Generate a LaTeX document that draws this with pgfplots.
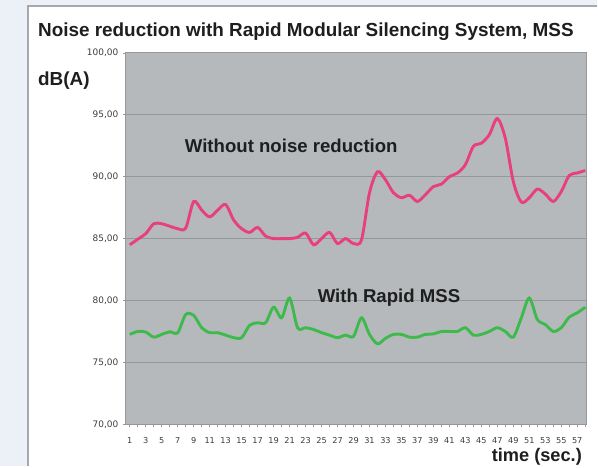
\documentclass[border=0pt]{standalone}
\usepackage{pgfplots}
\pgfplotsset{compat=1.18}
\usepackage{fontspec}
\setmainfont{Liberation Sans}
\newfontfamily\tickfont{DejaVu Sans}
\definecolor{pinkline}{RGB}{232,64,122}
\definecolor{greenline}{RGB}{62,186,76}
\definecolor{plotbg}{RGB}{181,185,188}
\definecolor{gridc}{RGB}{148,151,155}
\definecolor{panelbd}{RGB}{165,168,172}
\definecolor{outerbg}{RGB}{236,241,247}
\definecolor{ticktext}{RGB}{60,60,60}
\definecolor{labeltext}{RGB}{30,30,30}

\pgfplotstableread{
x y
1 84.5
2 84.95
3 85.4
4 86.2
5 86.2
6 86.0
7 85.8
8 85.85
9 88.0
10 87.3
11 86.75
12 87.3
13 87.75
14 86.5
15 85.8
16 85.5
17 85.9
18 85.2
19 85.0
20 85.0
21 85.0
22 85.1
23 85.45
24 84.5
25 85.0
26 85.5
27 84.6
28 85.0
29 84.6
30 84.9
31 88.7
32 90.4
33 89.75
34 88.7
35 88.3
36 88.5
37 88.0
38 88.55
39 89.2
40 89.4
41 90.0
42 90.3
43 90.97
44 92.45
45 92.7
46 93.4
47 94.7
48 93.1
49 89.6
50 87.95
51 88.3
52 89.0
53 88.6
54 88.0
55 88.8
56 90.1
57 90.3
58 90.5
}\without

\pgfplotstableread{
x y
1 77.26
2 77.5
3 77.45
4 77.04
5 77.26
6 77.47
7 77.4
8 78.87
9 78.8
10 77.8
11 77.4
12 77.4
13 77.2
14 77.0
15 77.0
16 78.0
17 78.2
18 78.2
19 79.46
20 78.6
21 80.2
22 77.8
23 77.8
24 77.66
25 77.4
26 77.2
27 77.0
28 77.2
29 77.1
30 78.6
31 77.26
32 76.5
33 76.94
34 77.26
35 77.26
36 77.04
37 77.04
38 77.26
39 77.3
40 77.5
41 77.5
42 77.5
43 77.8
44 77.2
45 77.26
46 77.5
47 77.8
48 77.5
49 77.04
50 78.6
51 80.2
52 78.47
53 78.06
54 77.5
55 77.8
56 78.66
57 79.0
58 79.46
}\withmss

\begin{document}
\begin{tikzpicture}[x=1bp,y=1bp]
\fill[outerbg] (0,0) rectangle (598,467);
\fill[white] (28,0) rectangle (598,461);
\draw[panelbd, line width=2bp] (28,0) -- (28,461) -- (598,461);
\node[anchor=base west, inner sep=0pt, font=\bfseries\fontsize{19}{21}\selectfont, text=labeltext] at (38,430) {Noise reduction with Rapid Modular Silencing System, MSS};
\node[anchor=base west, inner sep=0pt, font=\bfseries\fontsize{19}{21}\selectfont, text=labeltext] at (38,381) {dB(A)};
\node[anchor=base east, inner sep=0pt, font=\bfseries\fontsize{18.3}{20}\selectfont, text=labeltext] at (583,5) {time (sec.)};
\begin{axis}[
  at={(126bp,42bp)}, anchor=south west,
  scale only axis, width=461bp, height=372bp,
  xmin=0.5, xmax=58.1, ymin=70, ymax=100,
  ytick={70,75,...,100},
  xtick={1,3,...,57},
  minor xtick={1,...,58},
  axis background/.style={fill=plotbg},
  ymajorgrids, grid style={gridc, line width=0.8bp},
  axis line style={gridc, line width=0.8bp},
  tick style={gridc, line width=0.6bp},
  major tick length=3bp, minor tick length=3bp,
  tick align=outside,
  xtick pos=bottom, ytick pos=left,
  yticklabel style={font=\tickfont\fontsize{9}{10}\selectfont, text=ticktext, xshift=-1bp},
  xticklabel style={font=\tickfont\fontsize{8.2}{9}\selectfont, text=ticktext, yshift=-7bp},
  /pgf/number format/assume math mode=true,
  yticklabel={\pgfmathprintnumber[fixed, fixed zerofill, precision=2, use comma]{\tick}},
  clip=true,
]
\addplot[pinkline, line width=2.9bp, smooth, tension=0.5] table[x=x,y=y] {\without};
\addplot[greenline, line width=2.9bp, smooth, tension=0.5] table[x=x,y=y] {\withmss};
\node[anchor=base west, inner sep=0pt, font=\bfseries\fontsize{18.7}{20}\selectfont, text=labeltext] at (axis cs:7.875,91.94) {Without noise reduction};
\node[anchor=base west, inner sep=0pt, font=\bfseries\fontsize{18.7}{20}\selectfont, text=labeltext] at (axis cs:24.5,79.86) {With Rapid MSS};
\end{axis}
\end{tikzpicture}
\end{document}
